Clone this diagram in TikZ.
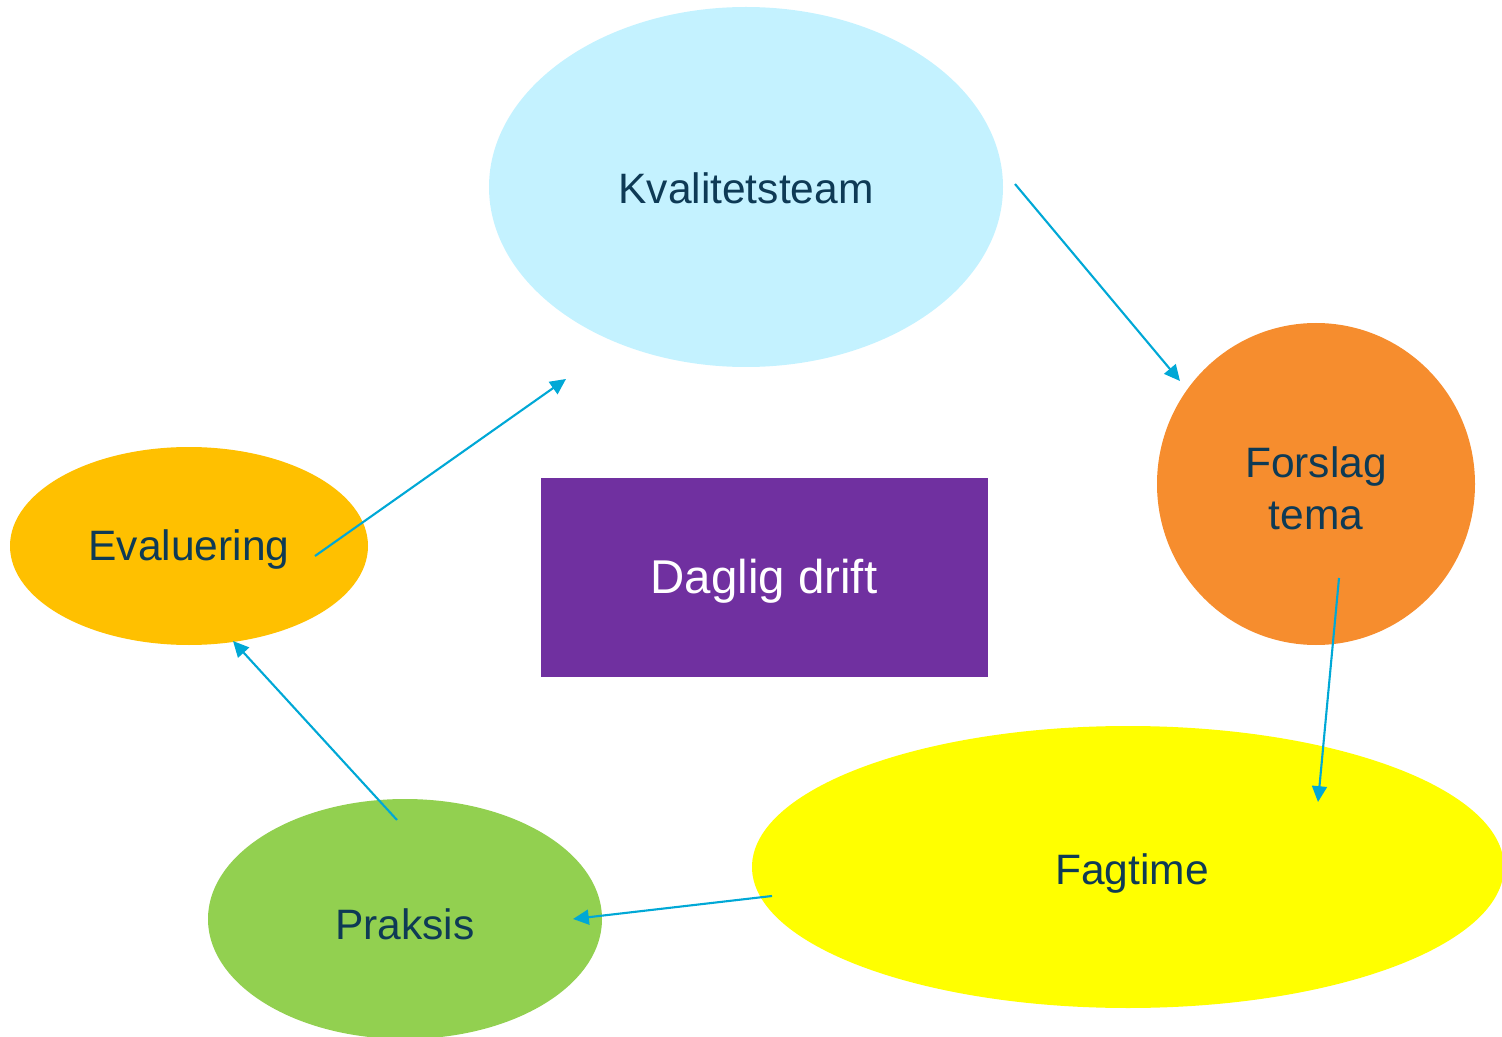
\documentclass[tikz,border=0pt]{standalone}
\usepackage{fontspec}
\setmainfont{Liberation Sans}
\usetikzlibrary{arrows.meta}
\definecolor{txt}{HTML}{0E3A55}
\definecolor{arr}{HTML}{00A8D6}
\definecolor{cKval}{HTML}{C4F2FF}
\definecolor{cFor}{HTML}{F68D2E}
\definecolor{cFag}{HTML}{FFFF00}
\definecolor{cPra}{HTML}{92D050}
\definecolor{cEva}{HTML}{FFC000}
\definecolor{cDag}{HTML}{7030A0}
\begin{document}
\begin{tikzpicture}[x=0.02cm,y=-0.02cm,
  lbl/.style={text=txt,font=\fontsize{24.2pt}{29.5pt}\selectfont,align=center},
  conn/.style={draw=arr,line width=1.2pt,-{Triangle[length=9pt,width=8.5pt]}}]
\useasboundingbox (0,0) rectangle (1502,1037);
\begin{scope}
\clip (0,0) rectangle (1502,1037);
\fill[cKval] (746,187) ellipse [x radius=257,y radius=180];
\fill[cFor] (1316,484) ellipse [x radius=159,y radius=161];
\fill[cFag] (1128,867) ellipse [x radius=376,y radius=141];
\fill[cPra] (405,919) ellipse [x radius=197,y radius=120];
\fill[cEva] (189,546) ellipse [x radius=179,y radius=99];
\fill[cDag] (541,478) rectangle (988,677);
\end{scope}
\node[lbl] (kval) at (746,188) {Kvalitetsteam};
\node[lbl] (forslag) at (1316,488) {Forslag\\tema};
\node[lbl] (fag) at (1132,874) {Fagtime};
\node[lbl] (praksis) at (405,924) {Praksis};
\node[lbl] (eval) at (189,550) {Evaluering};
\node[text=white,font=\fontsize{27pt}{32pt}\selectfont] (daglig) at (764,581) {Daglig drift};
\coordinate (a1s) at (1015,184); \coordinate (a1e) at (1180,381);
\coordinate (a2s) at (1339,578); \coordinate (a2e) at (1318,802);
\coordinate (a3s) at (772,896);  \coordinate (a3e) at (573,919);
\coordinate (a4s) at (397,820);  \coordinate (a4e) at (233,641);
\coordinate (a5s) at (315,556);  \coordinate (a5e) at (566,379);
\draw[conn] (a1s) -- (a1e);
\draw[conn] (a2s) -- (a2e);
\draw[conn] (a3s) -- (a3e);
\draw[conn] (a4s) -- (a4e);
\draw[conn] (a5s) -- (a5e);
\end{tikzpicture}
\end{document}
